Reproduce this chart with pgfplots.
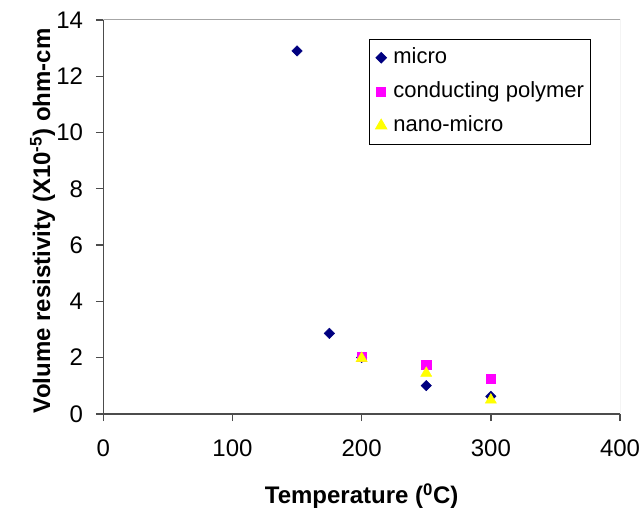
\documentclass[border=0pt]{standalone}
\usepackage{fontspec}
\setmainfont{Liberation Sans}
\usepackage{pgfplots}
\pgfplotsset{compat=1.18}
\definecolor{navyblue}{HTML}{000080}
\definecolor{pinkm}{HTML}{FF00FF}
\definecolor{yellowm}{HTML}{FFFF00}
\pgfplotsset{
  mk/.style={only marks,
    legend image code/.code={\draw[mark repeat=2,mark phase=2,##1] plot coordinates {(0pt,0pt) (6pt,0pt) (12pt,0pt)};}},
}
\begin{document}
\begin{tikzpicture}
\begin{axis}[
  scale only axis,
  width=387.75pt, height=295.5pt,
  xmin=0, xmax=400, ymin=0, ymax=14,
  xtick={0,100,...,400}, ytick={0,2,...,14},
  axis x line*=bottom, axis y line*=left,
  axis line style={-, black!70, line width=1.1pt},
  tick align=outside, major tick length=5.5pt,
  tick style={black!70, line width=1.1pt},
  /pgf/number format/assume math mode=true,
  ticklabel style={font=\fontsize{18}{21}\selectfont, inner sep=0pt},
  yticklabel style={xshift=-9.5pt},
  xticklabel style={yshift=-14pt},
  xlabel={Temperature (\textsuperscript{0}C)},
  ylabel={Volume resistivity (X10\textsuperscript{-5}) ohm-cm},
  label style={font=\fontsize{18}{21}\selectfont\bfseries, inner sep=0pt},
  xlabel style={at={(axis description cs:0.5,0)}, anchor=north, yshift=-52pt},
  ylabel style={at={(axis description cs:0,0.49)}, anchor=south, yshift=36pt},
  legend style={at={(0.5145,0.952)}, anchor=north west, draw=black, line width=0.75pt,
    font=\fontsize{16.5}{19}\selectfont, inner xsep=4.5pt, inner ysep=6pt,
    row sep=10pt, column sep=5pt,
    nodes={inner sep=0pt, text height=12pt, text depth=3.5pt}},
  legend cell align=left,
]
\addplot[mk, mark=square*, mark size=2.75pt, mark options={rotate=45, draw=navyblue, fill=navyblue}]
  coordinates {(150,12.9) (175,2.86) (200,2.0) (250,1.0) (300,0.62)};
\addplot[mk, mark=square*, mark size=3.4pt, mark options={draw=pinkm, fill=pinkm}]
  coordinates {(200,2.02) (250,1.73) (300,1.25)};
\addplot[mk, mark=triangle*, mark size=4.8pt, mark options={draw=yellowm, fill=yellowm}]
  coordinates {(200,1.97) (250,1.44) (300,0.49)};
\legend{micro, conducting polymer, nano-micro}
\draw[black!35, line width=0.75pt] (rel axis cs:0,1) -- (rel axis cs:1,1) -- (rel axis cs:1,0);
\coordinate (sw) at (rel axis cs:0,0);
\coordinate (ne) at (rel axis cs:1,1);
\end{axis}
\path (sw) ++(-77.5pt,-73.5pt) coordinate (bl);
\path (ne) ++(16.5pt,15pt) coordinate (tr);
\pgfresetboundingbox
\useasboundingbox (bl) rectangle (tr);
\end{tikzpicture}
\end{document}
